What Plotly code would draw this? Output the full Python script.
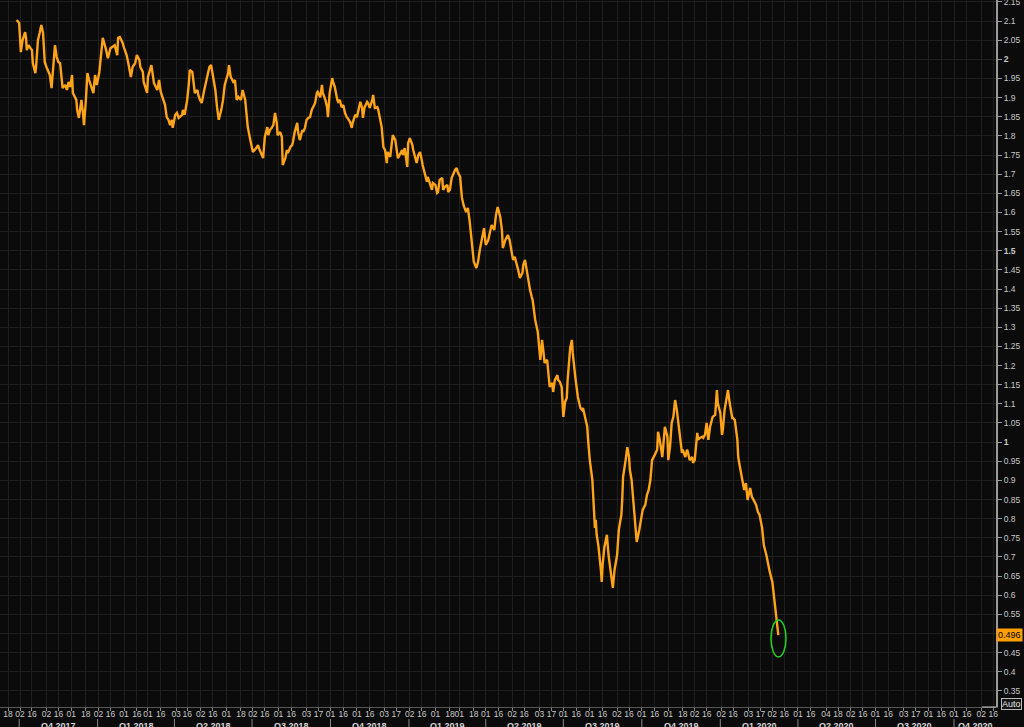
import plotly.graph_objects as go
import pandas as pd

# ---------------- data ----------------
dates = [
"2017-09-28","2017-10-01","2017-10-03","2017-10-05","2017-10-08","2017-10-09","2017-10-10","2017-10-12","2017-10-14","2017-10-16",
"2017-10-17","2017-10-20","2017-10-21","2017-10-23","2017-10-25","2017-10-27","2017-10-29","2017-10-30","2017-10-31","2017-11-02",
"2017-11-06","2017-11-08","2017-11-10","2017-11-12","2017-11-14","2017-11-16","2017-11-18","2017-11-20","2017-11-21","2017-11-24",
"2017-11-26","2017-11-28","2017-11-30","2017-12-02","2017-12-03","2017-12-07","2017-12-08","2017-12-10","2017-12-13","2017-12-15",
"2017-12-16","2017-12-18","2017-12-20","2017-12-22","2017-12-25","2017-12-27","2017-12-29","2017-12-31","2018-01-03","2018-01-05",
"2018-01-07","2018-01-11","2018-01-13","2018-01-16","2018-01-18","2018-01-21","2018-01-24","2018-01-25","2018-01-27","2018-01-30",
"2018-02-01","2018-02-04","2018-02-06","2018-02-09","2018-02-11","2018-02-14","2018-02-16","2018-02-19","2018-02-20","2018-02-23",
"2018-02-24","2018-02-28","2018-03-01","2018-03-05","2018-03-07","2018-03-08","2018-03-12","2018-03-14","2018-03-16","2018-03-19",
"2018-03-21","2018-03-23","2018-03-25","2018-03-27","2018-03-29","2018-03-30","2018-04-02","2018-04-04","2018-04-06","2018-04-10",
"2018-04-11","2018-04-13","2018-04-16","2018-04-18","2018-04-19","2018-04-22","2018-04-23","2018-04-25","2018-04-28","2018-04-29",
"2018-05-01","2018-05-03","2018-05-06","2018-05-09","2018-05-12","2018-05-14","2018-05-16","2018-05-19","2018-05-21","2018-05-23",
"2018-05-26","2018-05-28","2018-05-30","2018-06-03","2018-06-04","2018-06-06","2018-06-09","2018-06-11","2018-06-13","2018-06-15",
"2018-06-18","2018-06-20","2018-06-23","2018-06-25","2018-06-26","2018-06-29","2018-07-02","2018-07-06","2018-07-08","2018-07-10",
"2018-07-13","2018-07-14","2018-07-16","2018-07-19","2018-07-20","2018-07-22","2018-07-24","2018-07-26","2018-07-28","2018-07-30",
"2018-07-31","2018-08-03","2018-08-05","2018-08-06","2018-08-09","2018-08-11","2018-08-12","2018-08-15","2018-08-17","2018-08-18",
"2018-08-20","2018-08-23","2018-08-24","2018-08-26","2018-08-29","2018-08-30","2018-09-01","2018-09-03","2018-09-05","2018-09-07",
"2018-09-09","2018-09-10","2018-09-13","2018-09-15","2018-09-16","2018-09-19","2018-09-21","2018-09-22","2018-09-25","2018-09-27",
"2018-09-28","2018-09-30","2018-10-03","2018-10-04","2018-10-06","2018-10-09","2018-10-10","2018-10-12","2018-10-14","2018-10-16",
"2018-10-18","2018-10-20","2018-10-21","2018-10-24","2018-10-26","2018-10-27","2018-10-30","2018-11-01","2018-11-02","2018-11-05",
"2018-11-07","2018-11-08","2018-11-10","2018-11-13","2018-11-14","2018-11-16","2018-11-19","2018-11-20","2018-11-22","2018-11-25",
"2018-11-26","2018-11-28","2018-11-30","2018-12-02","2018-12-04","2018-12-06","2018-12-07","2018-12-10","2018-12-12","2018-12-13",
"2018-12-16","2018-12-18","2018-12-19","2018-12-21","2018-12-24","2018-12-25","2018-12-27","2018-12-30","2018-12-31","2019-01-02",
"2019-01-05","2019-01-06","2019-01-08","2019-01-10","2019-01-12","2019-01-14","2019-01-16","2019-01-17","2019-01-20","2019-01-22",
"2019-01-23","2019-01-26","2019-01-28","2019-01-29","2019-02-01","2019-02-03","2019-02-04","2019-02-06","2019-02-09","2019-02-10",
"2019-02-12","2019-02-15","2019-02-16","2019-02-18","2019-02-20","2019-02-24","2019-02-26","2019-02-27","2019-03-02","2019-03-04",
"2019-03-06","2019-03-09","2019-03-11","2019-03-13","2019-03-16","2019-03-18","2019-03-21","2019-03-23","2019-03-25","2019-03-28",
"2019-03-30","2019-04-01","2019-04-04","2019-04-06","2019-04-08","2019-04-11","2019-04-13","2019-04-15","2019-04-18","2019-04-20",
"2019-04-21","2019-04-24","2019-04-26","2019-04-27","2019-04-29","2019-05-02","2019-05-03","2019-05-05","2019-05-08","2019-05-09",
"2019-05-11","2019-05-14","2019-05-15","2019-05-17","2019-05-19","2019-05-21","2019-05-23","2019-05-25","2019-05-26","2019-05-29",
"2019-05-31","2019-06-01","2019-06-04","2019-06-06","2019-06-07","2019-06-09","2019-06-12","2019-06-13","2019-06-15","2019-06-18",
"2019-06-19","2019-06-21","2019-06-24","2019-06-25","2019-06-27","2019-06-29","2019-07-01","2019-07-03","2019-07-05","2019-07-06",
"2019-07-09","2019-07-11","2019-07-12","2019-07-15","2019-07-17","2019-07-18","2019-07-21","2019-07-23","2019-07-24","2019-07-26",
"2019-07-29","2019-07-30","2019-08-01","2019-08-04","2019-08-05","2019-08-06","2019-08-07","2019-08-08","2019-08-09","2019-08-11",
"2019-08-13","2019-08-14","2019-08-15","2019-08-16","2019-08-18","2019-08-20","2019-08-21","2019-08-23","2019-08-26","2019-08-28",
"2019-08-30","2019-09-02","2019-09-04","2019-09-07","2019-09-08","2019-09-09","2019-09-12","2019-09-14","2019-09-16","2019-09-17",
"2019-09-19","2019-09-22","2019-09-24","2019-09-25","2019-09-28","2019-09-30","2019-10-02","2019-10-05","2019-10-07","2019-10-09",
"2019-10-11","2019-10-13","2019-10-14","2019-10-16","2019-10-19","2019-10-20","2019-10-22","2019-10-25","2019-10-26","2019-10-28",
"2019-10-31","2019-11-01","2019-11-03","2019-11-05","2019-11-07","2019-11-09","2019-11-11","2019-11-12","2019-11-15","2019-11-17",
"2019-11-18","2019-11-21","2019-11-23","2019-11-24","2019-11-26","2019-11-29","2019-11-30","2019-12-02","2019-12-05","2019-12-06",
"2019-12-08","2019-12-11","2019-12-12","2019-12-14","2019-12-16","2019-12-18","2019-12-20","2019-12-22","2019-12-23","2019-12-26",
"2019-12-28","2019-12-29","2020-01-01","2020-01-03","2020-01-04","2020-01-06","2020-01-09","2020-01-10","2020-01-12","2020-01-15",
"2020-01-16","2020-01-18","2020-01-21","2020-01-22","2020-01-24","2020-01-26","2020-01-29","2020-01-31","2020-02-02","2020-02-05",
"2020-02-07","2020-02-09","2020-02-12","2020-02-14","2020-02-16","2020-02-19","2020-02-21","2020-02-24","2020-02-26","2020-02-28",
"2020-03-02","2020-03-04","2020-03-06","2020-03-09",
]

values = [
2.103,2.095,2.019,2.050,2.071,2.058,2.024,2.037,2.030,2.024,
1.990,1.964,1.985,2.050,2.069,2.090,2.069,2.024,1.993,1.980,
1.959,1.925,1.990,2.037,2.006,1.993,1.990,1.954,1.925,1.933,
1.920,1.941,1.928,1.959,1.912,1.894,1.868,1.847,1.894,1.855,
1.828,1.886,1.964,1.946,1.928,1.912,1.959,1.933,1.967,2.017,
2.056,2.024,2.003,2.029,2.032,2.037,2.011,2.056,2.058,2.045,
2.030,2.011,1.990,1.954,1.980,1.990,2.011,1.998,1.980,1.967,
1.941,1.912,1.954,1.985,1.954,1.938,1.920,1.946,1.915,1.894,
1.881,1.849,1.842,1.828,1.842,1.821,1.855,1.860,1.847,1.855,
1.868,1.855,1.894,1.938,1.972,1.967,1.946,1.912,1.920,1.907,
1.894,1.886,1.920,1.954,1.980,1.985,1.959,1.920,1.875,1.842,
1.868,1.894,1.933,1.964,1.985,1.954,1.941,1.946,1.894,1.902,
1.894,1.920,1.894,1.849,1.823,1.789,1.758,1.768,1.776,1.763,
1.750,1.742,1.797,1.823,1.802,1.815,1.821,1.828,1.860,1.834,
1.802,1.810,1.797,1.724,1.742,1.763,1.755,1.771,1.776,1.784,
1.810,1.834,1.810,1.789,1.815,1.810,1.821,1.842,1.847,1.849,
1.868,1.873,1.886,1.912,1.915,1.901,1.933,1.912,1.894,1.875,
1.849,1.912,1.951,1.941,1.928,1.894,1.889,1.894,1.875,1.881,
1.860,1.849,1.847,1.836,1.821,1.834,1.855,1.849,1.860,1.889,
1.873,1.847,1.875,1.889,1.886,1.873,1.894,1.907,1.873,1.875,
1.868,1.849,1.823,1.771,1.763,1.729,1.758,1.745,1.781,1.802,
1.789,1.758,1.742,1.750,1.763,1.750,1.768,1.719,1.781,1.794,
1.776,1.763,1.745,1.729,1.750,1.758,1.737,1.724,1.698,1.680,
1.693,1.672,1.659,1.677,1.672,1.651,1.653,1.685,1.690,1.659,
1.667,1.672,1.653,1.659,1.690,1.711,1.716,1.706,1.693,1.640,
1.619,1.601,1.612,1.580,1.515,1.471,1.455,1.471,1.502,1.541,
1.559,1.515,1.528,1.549,1.567,1.554,1.593,1.614,1.588,1.554,
1.507,1.528,1.536,1.541,1.528,1.494,1.476,1.484,1.463,1.450,
1.429,1.442,1.463,1.476,1.450,1.416,1.397,1.379,1.371,1.319,
1.301,1.288,1.215,1.267,1.249,1.207,1.215,1.189,1.144,1.155,
1.131,1.162,1.175,1.162,1.157,1.144,1.066,1.105,1.115,1.162,
1.246,1.267,1.233,1.170,1.141,1.118,1.089,1.084,1.089,1.066,
1.040,1.006,0.953,0.901,0.849,0.810,0.776,0.797,0.758,0.731,
0.692,0.666,0.635,0.679,0.724,0.744,0.758,0.705,0.645,0.619,
0.666,0.705,0.771,0.810,0.849,0.909,0.953,0.987,0.961,0.927,
0.901,0.823,0.771,0.739,0.771,0.802,0.823,0.836,0.862,0.875,
0.901,0.953,0.959,0.966,0.980,1.027,1.006,0.961,0.987,1.040,
1.014,0.953,0.987,1.050,1.066,1.110,1.084,1.066,1.024,0.972,
0.980,0.961,0.980,0.974,0.953,0.961,0.946,0.953,1.024,1.006,
1.011,1.014,1.011,1.019,1.050,1.006,1.040,1.063,1.066,1.071,
1.136,1.102,1.076,1.019,1.032,1.084,1.118,1.136,1.102,1.063,
1.063,1.058,1.006,0.961,0.935,0.909,0.875,0.893,0.849,0.880,
0.857,0.849,0.836,0.818,0.810,0.776,0.731,0.705,0.679,0.661,
0.635,0.588,0.556,0.496,
]

last_value_label = "0.496"

tick_dates = [
"2017-09-18","2017-10-02","2017-10-16","2017-11-02","2017-11-16","2017-12-01","2017-12-18",
"2018-01-02","2018-01-16","2018-02-01","2018-02-16","2018-03-01","2018-03-16",
"2018-04-03","2018-04-16","2018-05-02","2018-05-16","2018-06-01","2018-06-18",
"2018-07-02","2018-07-16","2018-08-01","2018-08-16","2018-09-03","2018-09-17",
"2018-10-01","2018-10-16","2018-11-01","2018-11-16","2018-12-03","2018-12-17",
"2019-01-02","2019-01-16","2019-02-01","2019-02-18","2019-03-01","2019-03-18",
"2019-04-01","2019-04-16","2019-05-02","2019-05-16","2019-06-03","2019-06-17",
"2019-07-01","2019-07-16","2019-08-01","2019-08-16","2019-09-02","2019-09-16",
"2019-10-01","2019-10-16","2019-11-01","2019-11-18","2019-12-02","2019-12-16",
"2020-01-02","2020-01-16","2020-02-03","2020-02-17","2020-03-02","2020-03-16",
"2020-04-01","2020-04-16","2020-05-04","2020-05-18","2020-06-02","2020-06-16",
"2020-07-01","2020-07-16","2020-08-03","2020-08-17","2020-09-01","2020-09-16",
"2020-10-01","2020-10-16","2020-11-02","2020-11-16",
]
tick_labels = [d[-2:] for d in tick_dates]

quarter_starts = ["2017-10-01","2018-01-01","2018-04-01","2018-07-01","2018-10-01",
                  "2019-01-01","2019-04-01","2019-07-01","2019-10-01",
                  "2020-01-01","2020-04-01","2020-07-01","2020-10-01"]
quarter_labels = ["Q4 2017","Q1 2018","Q2 2018","Q3 2018","Q4 2018",
                  "Q1 2019","Q2 2019","Q3 2019","Q4 2019",
                  "Q1 2020","Q2 2020","Q3 2020","Q4 2020"]

y_ticks = [round(0.35 + 0.05 * i, 2) for i in range(37)]
y_bold = [2.0, 1.5, 1.0]
y_hidden = [0.5]   # covered by the last-value tag in the reference

# ---------------- styling ----------------
X_RANGE = ["2017-09-08 13:00", "2020-11-19 05:00"]
Y_RANGE = [0.308, 2.155]
BG = "#0b0b0b"
GRID = "#1f1f1f"
ORANGE = "#ffa31a"
FONT = "Liberation Sans"
PLOT_H = 707  # px height of plot area
PLOT_W = 996

def fmt(v):
    if round(v, 2) in y_hidden:
        return ""
    s = ("%.2f" % v).rstrip("0").rstrip(".")
    return "<b>%s</b>" % s if round(v, 2) in y_bold else s

fig = go.Figure()
fig.add_trace(go.Scatter(
    x=dates, y=values, mode="lines",
    line=dict(color=ORANGE, width=2.4),
    hoverinfo="skip", showlegend=False,
))

annotations = []
shapes = []

# quarter labels and separators
range_end = pd.Timestamp(X_RANGE[1])
qs = [pd.Timestamp(q) for q in quarter_starts]
for i, (q, lab) in enumerate(zip(qs, quarter_labels)):
    nxt = qs[i + 1] if i + 1 < len(qs) else pd.Timestamp("2021-01-01")
    end = min(nxt, range_end)
    mid = q + (end - q) / 2
    annotations.append(dict(
        x=mid, xref="x", y=0, yref="paper", yanchor="top", yshift=-12,
        text="<b>%s</b>" % lab, showarrow=False,
        font=dict(family=FONT, size=9, color="#d6d6d6"),
    ))
    shapes.append(dict(
        type="line", xref="x", yref="paper", x0=q, x1=q,
        y0=-12.0 / PLOT_H, y1=-20.0 / PLOT_H,
        line=dict(color="#8a8a8a", width=1),
    ))

# last value tag
annotations.append(dict(
    x=1, xref="paper", xanchor="left", y=values[-1], yref="y", yanchor="middle",
    text=last_value_label, showarrow=False, bgcolor="#ffa000", borderpad=1,
    font=dict(family=FONT, size=9, color="#000000"),
))
# Auto button
annotations.append(dict(
    x=1, xref="paper", xanchor="left", xshift=5, y=0, yref="paper", yanchor="middle", yshift=3,
    text="Auto", showarrow=False, bgcolor="#151515", bordercolor="#b8b8b8",
    borderwidth=1, borderpad=0,
    font=dict(family=FONT, size=9, color="#e6e6e6"),
))

# green highlight ellipse around the last point
shapes.append(dict(
    type="circle", xref="x", yref="y",
    x0="2020-02-29 10:00", x1="2020-03-18", y0=0.439, y1=0.5355,
    line=dict(color="#22d322", width=1.5),
))
# small light segment at the bottom right of the axis
shapes.append(dict(
    type="line", xref="paper", yref="paper", x0=982.0 / PLOT_W, x1=1, y0=0, y1=0,
    line=dict(color="#cfcfcf", width=1),
))

fig.update_layout(
    width=1024, height=727,
    margin=dict(l=0, r=28, t=0, b=20, pad=0),
    paper_bgcolor=BG, plot_bgcolor=BG,
    showlegend=False,
    annotations=annotations,
    shapes=shapes,
    xaxis=dict(
        type="date", range=X_RANGE, automargin=False,
        tickmode="array", tickvals=tick_dates, ticktext=tick_labels,
        ticks="outside", ticklen=3, tickcolor="#8a8a8a", tickwidth=1,
        ticklabelstandoff=-4, ticklabeloverflow="allow",
        showline=True, linecolor="#555555", linewidth=1,
        showgrid=True, gridcolor=GRID, gridwidth=1,
        tickfont=dict(family=FONT, size=8.5, color="#c8c8c8"),
        tickangle=0, zeroline=False, fixedrange=True,
    ),
    yaxis=dict(
        side="right", range=Y_RANGE, automargin=False,
        tickmode="array", tickvals=y_ticks, ticktext=[fmt(v) for v in y_ticks],
        ticks="outside", ticklen=4, tickcolor="#9a9a9a", tickwidth=1,
        ticklabeloverflow="allow",
        showline=True, linecolor="#9a9a9a", linewidth=2,
        showgrid=True, gridcolor=GRID, gridwidth=1,
        tickfont=dict(family=FONT, size=8.5, color="#c8c8c8"),
        zeroline=False, fixedrange=True,
    ),
)

fig.write_html(
    "out.html",
    config={"displayModeBar": False},
    post_script="document.body.style.margin='0';document.body.style.padding='0';"
                "document.body.style.background='#0b0b0b';",
)
